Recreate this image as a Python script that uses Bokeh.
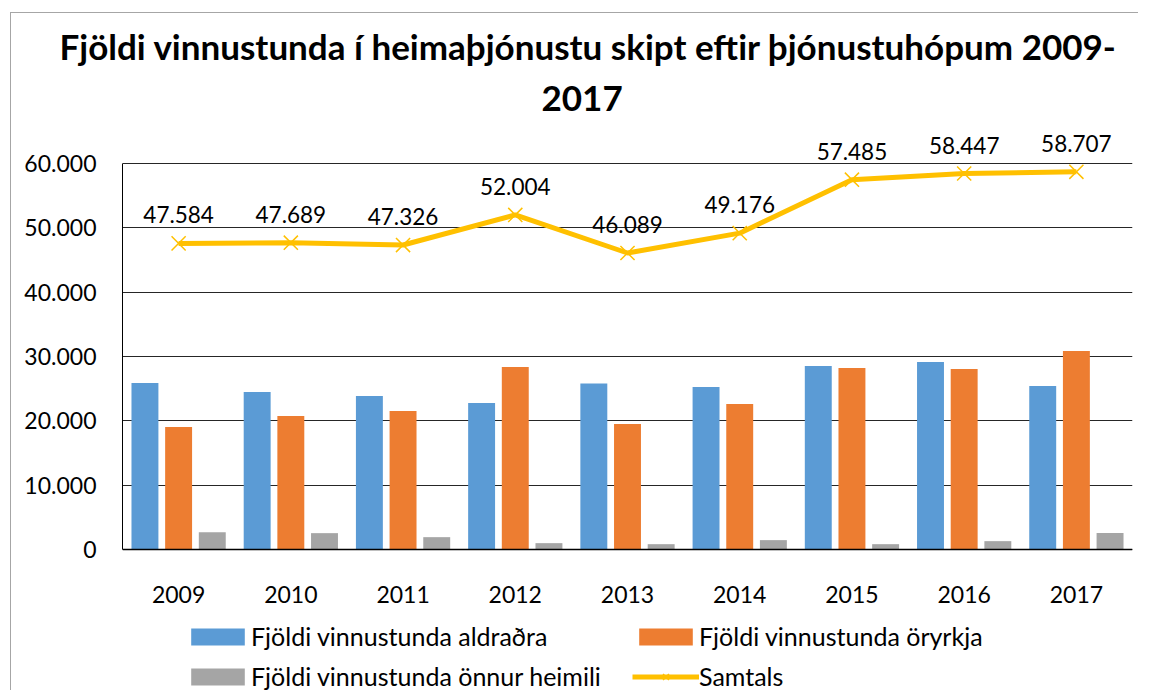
from bokeh.plotting import figure
from bokeh.models import (ColumnDataSource, FactorRange, Range1d, Legend, LegendItem,
                          Title, LabelSet, CustomJSTickFormatter, FixedTicker)
from bokeh.transform import dodge
from bokeh.core.properties import value
from bokeh.embed import file_html
from bokeh.resources import INLINE

# ---- data ----
years = ["2009", "2010", "2011", "2012", "2013", "2014", "2015", "2016", "2017"]
aldradra = [25860, 24460, 23840, 22750, 25800, 25240, 28510, 29130, 25400]
oryrkja = [19020, 20730, 21510, 28350, 19490, 22600, 28200, 28040, 30840]
onnur = [2690, 2535, 1910, 980, 820, 1450, 820, 1290, 2540]
samtals = [47584, 47689, 47326, 52004, 46089, 49176, 57485, 58447, 58707]
y_ticks = [0, 10000, 20000, 30000, 40000, 50000, 60000]

title_1 = "Fjöldi vinnustunda í heimaþjónustu skipt eftir þjónustuhópum 2009-"
title_2 = "2017"
names = ["Fjöldi vinnustunda aldraðra", "Fjöldi vinnustunda öryrkja",
         "Fjöldi vinnustunda önnur heimili", "Samtals"]

FONT = "Lato"
BLUE, ORANGE, GRAY, GOLD = "#5B9BD5", "#ED7D31", "#A5A5A5", "#FFC000"

def fmt(v):
    return f"{v:,}".replace(",", ".")

src = ColumnDataSource(dict(
    year=years, a=aldradra, o=oryrkja, n=onnur, s=samtals,
    lbl=[fmt(v) for v in samtals],
))

# pixel scale: 10000 units = 64.3 px ; frame spans canvas y 112..678
PX = 10000 / 64.3
y_top = 60000 + 38 * PX
y_bot = -142 * PX

p = figure(width=1128, height=678, x_range=FactorRange(*years), y_range=Range1d(y_bot, y_top),
           output_backend="svg", toolbar_location=None,
           min_border_left=111, min_border_right=7, min_border_top=112, min_border_bottom=0)
p.styles = {"margin-left": "10px", "margin-top": "12px",
            "border-left": "1px solid #A6A6A6", "border-top": "1px solid #A6A6A6"}
p.outline_line_color = None
p.background_fill_color = "white"
p.border_fill_color = "white"

r_a = p.vbar(x=dodge("year", -0.3, range=p.x_range), top="a", width=0.24, source=src,
             fill_color=BLUE, line_color=None)
r_o = p.vbar(x=dodge("year", 0.0, range=p.x_range), top="o", width=0.24, source=src,
             fill_color=ORANGE, line_color=None)
r_n = p.vbar(x=dodge("year", 0.3, range=p.x_range), top="n", width=0.24, source=src,
             fill_color=GRAY, line_color=None)
r_l = p.line(x="year", y="s", source=src, line_color=GOLD, line_width=5)
r_m = p.scatter(x="year", y="s", source=src, marker="x", size=20, line_color=GOLD, line_width=1.5)

labels = LabelSet(x="year", y="s", text="lbl", source=src, y_offset=20,
                  text_align="center", text_baseline="alphabetic",
                  text_font=value(FONT), text_font_size="22.5px", text_color="black")
p.add_layout(labels)

# axes
p.yaxis.ticker = FixedTicker(ticks=y_ticks)
p.yaxis.bounds = (0, 60000)
p.yaxis.formatter = CustomJSTickFormatter(code="""
    return String(tick).replace(/\\B(?=(\\d{3})+(?!\\d))/g, '.');
""")
p.xaxis.fixed_location = 0
for ax in (p.xaxis, p.yaxis):
    ax.major_tick_line_color = None
    ax.minor_tick_line_color = None
    ax.major_label_text_font = FONT
    ax.major_label_text_font_size = "23px"
    ax.major_label_text_color = "black"
    ax.axis_line_color = "black"
p.xaxis.axis_line_width = 1.5
p.yaxis.major_label_standoff = 20
p.xaxis.major_label_standoff = 31
p.xgrid.grid_line_color = None
p.ygrid.grid_line_color = "#262626"
p.ygrid.grid_line_width = 1

# title (two lines; the later-added one sits on top)
p.add_layout(Title(text=title_2, align="left", offset=419, standoff=29,
                   text_font=FONT, text_font_style="bold", text_font_size="35px",
                   text_color="black"), "above")
p.add_layout(Title(text=title_1, align="left", offset=-63, standoff=5,
                   text_font=FONT, text_font_style="bold", text_font_size="35px",
                   text_color="black"), "above")

# legends (area legend glyphs are drawn with a 10% inset on each side)
def make_legend(items, loc):
    return Legend(items=items, location=loc, orientation="vertical",
                  glyph_width=67, glyph_height=21, label_height=17, spacing=10,
                  label_standoff=0, padding=0, margin=0,
                  border_line_color=None, background_fill_alpha=0,
                  label_text_font=FONT, label_text_font_size="25px", label_text_color="black")

lg1 = make_legend([LegendItem(label=names[0], renderers=[r_a]),
                   LegendItem(label=names[2], renderers=[r_n])], (62, 0))
lg2 = make_legend([LegendItem(label=names[1], renderers=[r_o]),
                   LegendItem(label=names[3], renderers=[r_l, r_m])], (510, 0))
p.add_layout(lg1)
p.add_layout(lg2)

open("out.html", "w").write(file_html(p, INLINE))
